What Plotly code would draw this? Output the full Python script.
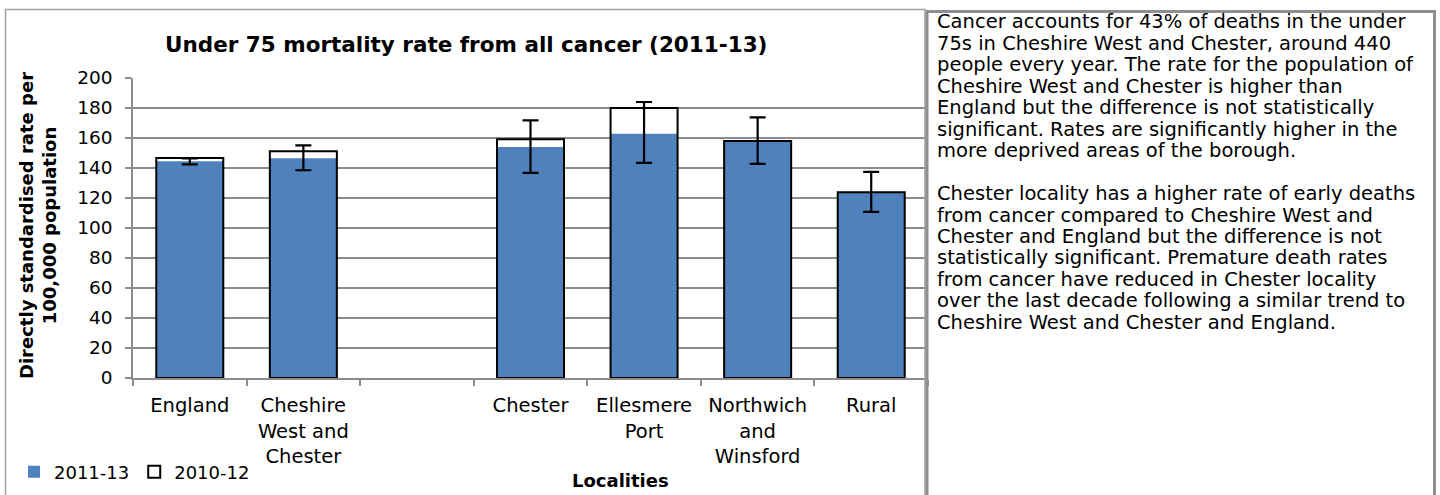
import plotly.graph_objects as go

# ---------------- data ----------------
categories = ["England", "Cheshire<br>West and<br>Chester", " ", "Chester",
              "Ellesmere<br>Port", "Northwich<br>and<br>Winsford", "Rural"]
rate_2011_13 = [144.5, 146.5, None, 154.0, 162.9, 158.0, 123.9]
rate_2010_12 = [146.7, 151.2, None, 159.1, 180.0, 158.0, 123.9]
ci_lower = [142.4, 138.5, None, 136.7, 143.4, 142.7, 110.8]
ci_upper = [146.4, 155.1, None, 171.8, 184.0, 173.8, 137.4]
y_tick_values = [0, 20, 40, 60, 80, 100, 120, 140, 160, 180, 200]
series_names = ["2011-13", "2010-12"]

chart_title = "Under 75 mortality rate from all cancer (2011-13)"
y_title = "Directly standardised rate per<br>100,000 population"
x_title = "Localities"
side_text = [
    "Cancer accounts for 43% of deaths in the under",
    "75s in Cheshire West and Chester, around 440",
    "people every year. The rate for the population of",
    "Cheshire West and Chester is higher than",
    "England but the difference is not statistically",
    "significant. Rates are significantly higher in the",
    "more deprived areas of the borough.",
    "",
    "Chester locality has a higher rate of early deaths",
    "from cancer compared to Cheshire West and",
    "Chester and England but the difference is not",
    "statistically significant. Premature death rates",
    "from cancer have reduced in Chester locality",
    "over the last decade following a similar trend to",
    "Cheshire West and Chester and England.",
]

# ---------------- layout geometry ----------------
W, H = 1440, 495
L, R, T, B = 133, 512, 78, 117
PW, PH = W - L - R, H - T - B


def px_x(px):
    return (px - L) / PW


def px_y(py):
    return (H - B - py) / PH


FONT = "DejaVu Sans"
err_plus = [None if v is None else u - v for v, u in zip(rate_2011_13, ci_upper)]
err_minus = [None if v is None else v - lo for v, lo in zip(rate_2011_13, ci_lower)]

fig = go.Figure()
fig.add_trace(go.Bar(
    x=categories, y=rate_2011_13, name=series_names[0], width=0.59,
    marker=dict(color="#4F81BD", line=dict(width=0)),
    error_y=dict(type="data", array=err_plus, arrayminus=err_minus,
                 color="black", thickness=2.2, width=8, symmetric=False),
))
fig.add_trace(go.Bar(
    x=categories, y=rate_2010_12, name=series_names[1], width=0.59,
    marker=dict(color="rgba(255,255,255,0)", line=dict(color="black", width=2)),
))

fig.update_layout(
    width=W, height=H,
    margin=dict(l=L, r=R, t=T, b=B, pad=0, autoexpand=False),
    barmode="overlay",
    paper_bgcolor="white", plot_bgcolor="white",
    font=dict(family=FONT, size=18.5, color="black"),
    showlegend=True,
    legend=dict(orientation="h", xref="container", yref="container",
                x=14 / W, y=1 - 472 / H, xanchor="left", yanchor="middle",
                bgcolor="rgba(0,0,0,0)",
                font=dict(family=FONT, size=18, color="black"),
                itemwidth=30, traceorder="normal"),
)
fig.update_xaxes(
    type="category", categoryorder="array", categoryarray=categories,
    showline=True, linecolor="#8c8c8c", linewidth=1.5,
    ticks="outside", tickson="boundaries", ticklen=6, tickcolor="#8c8c8c",
    tickwidth=1.5, showgrid=False, tickfont=dict(family=FONT, size=19.5),
    ticklabelstandoff=9, automargin=False, fixedrange=True,
)
fig.update_yaxes(
    range=[0, 200], tickvals=y_tick_values, showline=True,
    linecolor="#8c8c8c", linewidth=1.5, ticks="outside", ticklen=6,
    tickcolor="#8c8c8c", tickwidth=1.5, showgrid=True, gridcolor="#8c8c8c",
    gridwidth=1.5, zeroline=False, tickfont=dict(family=FONT, size=18.5),
    ticklabelstandoff=9, automargin=False, fixedrange=True,
)

annotations = [
    dict(text="<b>" + chart_title + "</b>", x=px_x(466), y=px_y(45),
         xanchor="center", yanchor="middle",
         font=dict(family=FONT, size=21.5, color="black")),
    dict(text="<b>" + y_title + "</b>", x=px_x(38), y=px_y(226),
         xanchor="center", yanchor="middle", textangle=-90,
         font=dict(family=FONT, size=18, color="black")),
    dict(text="<b>" + x_title + "</b>", x=px_x(620), y=px_y(480),
         xanchor="center", yanchor="middle",
         font=dict(family=FONT, size=18, color="black")),
]
for i, line in enumerate(side_text):
    if not line:
        continue
    annotations.append(dict(
        text=line, x=px_x(935), y=px_y(22 + i * 21.45), xanchor="left",
        yanchor="middle", align="left",
        font=dict(family=FONT, size=19.5, color="black")))
for a in annotations:
    a.update(xref="paper", yref="paper", showarrow=False)
fig.update_layout(annotations=annotations)

fig.update_layout(shapes=[
    dict(type="rect", xref="paper", yref="paper", layer="above",
         x0=px_x(5.5), x1=px_x(925), y0=px_y(9.5), y1=px_y(510),
         line=dict(color="#a0a0a0", width=1.5), fillcolor="rgba(0,0,0,0)"),
    dict(type="rect", xref="paper", yref="paper", layer="above",
         x0=px_x(927), x1=px_x(1434.5), y0=px_y(11.5), y1=px_y(510),
         line=dict(color="#8f8f8f", width=3), fillcolor="rgba(0,0,0,0)"),
])

fig.write_html("out.html", config={"displayModeBar": False},
               post_script="document.body.style.margin='0';document.body.style.overflow='hidden';")
